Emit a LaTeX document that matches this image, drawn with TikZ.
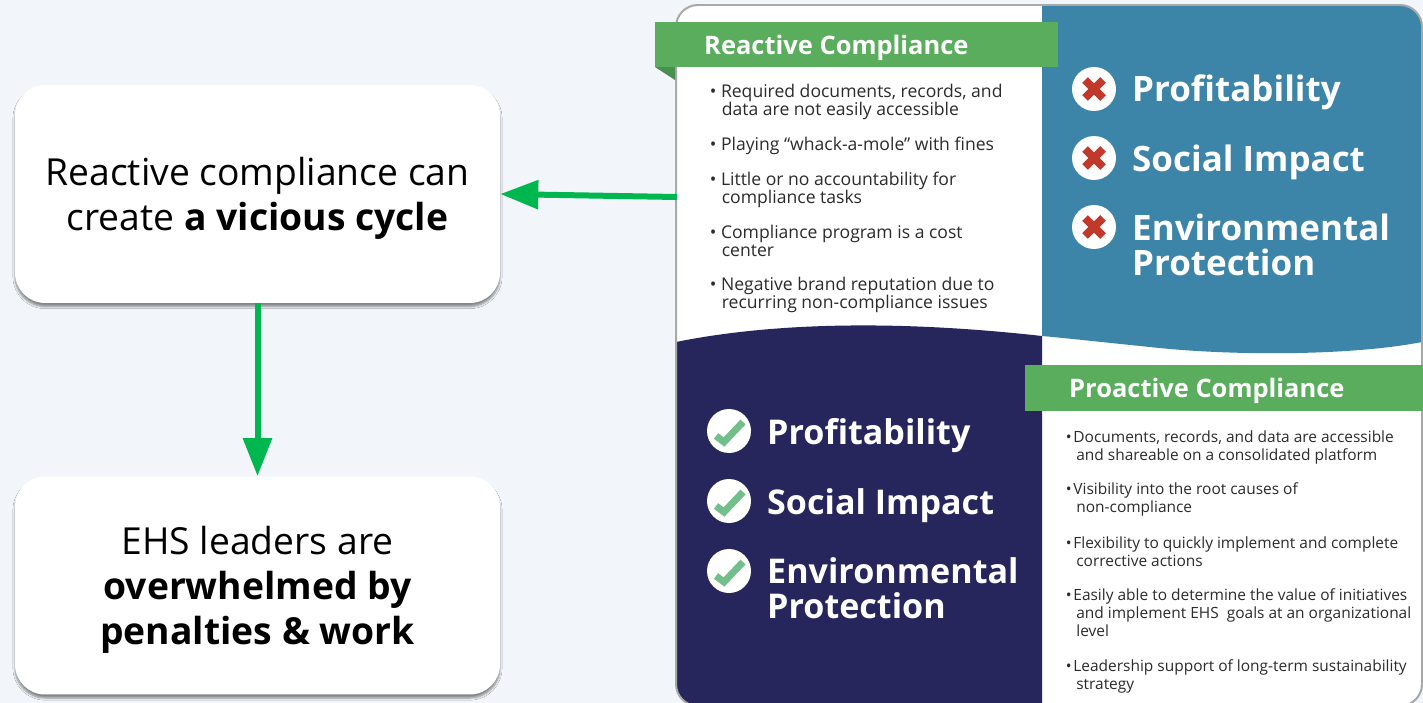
\documentclass[tikz,border=0pt]{standalone}
\usepackage{fontspec}
\setmainfont{Open Sans}
\usepackage{tikz}
\usetikzlibrary{arrows.meta,shadows.blur}

\definecolor{pagebg}{HTML}{F2F6FA}
\definecolor{arrowgreen}{HTML}{00B64F}
\definecolor{headgreen}{HTML}{5AAD5C}
\definecolor{foldgreen}{HTML}{4A8E50}
\definecolor{tealblue}{HTML}{3C85A8}
\definecolor{navy}{HTML}{27265C}
\definecolor{crossred}{HTML}{C0392B}
\definecolor{checkgreen}{HTML}{72BF8C}
\definecolor{bordergray}{HTML}{A8A8A8}
\definecolor{bodytext}{HTML}{2B2B2B}

\newcommand{\lowerline}{\rule{0pt}{21pt}}
\lineskiplimit=-20pt
\normallineskiplimit=-20pt

\tikzset{
	x=0.02cm,y=-0.02cm,
	cyclebox/.style={draw=none,fill=white,rounded corners=0.6cm,minimum width=9.7cm,minimum height=4.36cm,align=center,
		font=\fontsize{21.2}{25.6}\selectfont,text=black,
		blur shadow={shadow xshift=0pt,shadow yshift=-2pt,shadow blur radius=1.2pt,shadow blur steps=6,shadow opacity=45}},
	greenarrow/.style={draw=arrowgreen,line width=0.12cm,-{Triangle[length=0.76cm,width=0.56cm]}},
	bigword/.style={anchor=base west,align=left,text=white,font=\fontsize{19.9}{19.4}\selectfont\bfseries},
	checkword/.style={bigword,font=\fontsize{19.4}{19.4}\selectfont\bfseries},
	headword/.style={anchor=base west,text=white,font=\fontsize{14.5}{17}\selectfont\bfseries},
	bulletlist/.style={anchor=base west,align=left,inner sep=0pt,text=bodytext,font=\fontsize{10}{10}\selectfont},
	bulletsmall/.style={bulletlist,font=\fontsize{8.8}{10}\selectfont},
	iconcircle/.style={fill=white,minimum size=0.88cm,circle,inner sep=0pt},
}

\begin{document}
\begin{tikzpicture}
	\useasboundingbox[fill=pagebg] (0,0) rectangle (1423,703);

	% Left boxes
	\node[cyclebox] (vicious) at (257.5,194) {\lowerline Reactive compliance can\\create \textbf{a vicious cycle}};
	\node[cyclebox] (overwhelmed) at (257.5,585.5) {\lowerline EHS leaders are\\\textbf{overwhelmed by}\\\textbf{penalties \& work}};

	% Panel
	\fill[white,rounded corners=0.44cm] (676,5) rectangle (1422,706);
	\begin{scope}
		\clip[rounded corners=0.44cm] (676,5) rectangle (1422,706);

		% Blue top right
		\fill[tealblue] (1042,5) -- (1422,5) -- (1422,342)
			.. controls (1350,356) and (1230,356) .. (1150,347)
			.. controls (1110,343) and (1075,339) .. (1042,336) -- cycle;

		% Navy bottom left
		\fill[navy] (676,342) .. controls (760,325) and (880,318) .. (1042,336) -- (1042,706) -- (676,706) -- cycle;
	\end{scope}

	% Border
	\draw[bordergray,line width=0.04cm,rounded corners=0.44cm] (676,5) rectangle (1422,706);

	% Reactive header
	\fill[foldgreen] (655,67) -- (675,67) -- (675,80) -- cycle;
	\fill[headgreen] (655,22) rectangle (1058,67);
	\node[headword] (reactive) at (698,54) {Reactive Compliance};

	% Reactive bullets
	\node[bulletlist] at (709.5,115) {• Required documents, records, and\\\hspace*{0.24cm}data are not easily accessible};
	\node[bulletlist] at (709.5,150) {• Playing “whack-a-mole” with fines};
	\node[bulletlist] at (709.5,203) {• Little or no accountability for\\\hspace*{0.24cm}compliance tasks};
	\node[bulletlist] at (709.5,256) {• Compliance program is a cost\\\hspace*{0.24cm}center};
	\node[bulletlist] at (709.5,308) {• Negative brand reputation due to\\\hspace*{0.24cm}recurring non-compliance issues};

	% Crosses
	\foreach \y in {89,158,227} {
			\node[iconcircle] at (1094,\y) {};
			\draw[crossred,line width=0.16cm] (1085,\y-9) -- (1103,\y+9);
			\draw[crossred,line width=0.16cm] (1103,\y-9) -- (1085,\y+9);
		}
	\node[bigword] at (1126,101) {Profitability};
	\node[bigword] at (1126,171) {Social Impact};
	\node[bigword] at (1126,275) {Environmental\\Protection};

	% Checks
	\foreach \y in {431,501,571} {
			\node[iconcircle] at (729,\y) {};
			\draw[checkgreen,line width=0.14cm] (716,\y+5) -- (724,\y+11) -- (743,\y-9);
		}
	\node[checkword] at (761,444) {Profitability};
	\node[checkword] at (761,514) {Social Impact};
	\node[checkword] at (761,618) {Environmental\\Protection};

	% Proactive header
	\fill[headgreen] (1025,365) rectangle (1423,411);
	\node[headword] (proactive) at (1063,397) {Proactive Compliance};

	% Proactive bullets
	\node[bulletsmall] at (1065.5,460) {•\kern1pt Documents, records, and data are accessible\\\hspace*{0.21cm}and shareable on a consolidated platform};
	\node[bulletsmall] at (1065.5,512) {•\kern1pt Visibility into the root causes of\\\hspace*{0.21cm}non-compliance};
	\node[bulletsmall] at (1065.5,566) {•\kern1pt Flexibility to quickly implement and complete\\\hspace*{0.21cm}corrective actions};
	\node[bulletsmall] at (1065.5,636) {•\kern1pt Easily able to determine the value of initiatives\\\hspace*{0.21cm}and implement EHS\ \ goals at an organizational\\\hspace*{0.21cm}level};
	\node[bulletsmall] at (1065.5,689) {•\kern1pt Leadership support of long-term sustainability\\\hspace*{0.21cm}strategy};

	% Arrows
	\coordinate (panelleft) at (677,197);
	\draw[greenarrow] (panelleft) -- (vicious.east);
	\draw[greenarrow] (vicious) -- (overwhelmed);
\end{tikzpicture}
\end{document}
